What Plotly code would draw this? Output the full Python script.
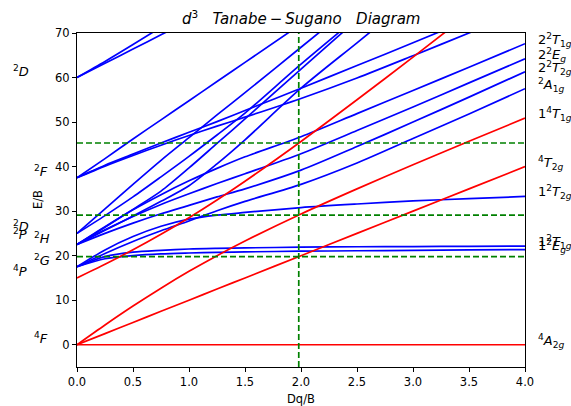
import plotly.graph_objects as go

# ---------------- data ----------------
dq = [0, 0.25, 0.5, 0.75, 1.0, 1.25, 1.5, 2.0, 2.5, 3.0, 3.5, 4.0]

# quartet states (red)
q_4A2g = [0, 0, 0, 0, 0, 0, 0, 0, 0, 0, 0, 0]
q_4T2g = [0, 2.5, 5, 7.5, 10, 12.5, 15, 20, 25, 30, 35, 40]
q_14T1g = [0, 4.43, 8.68, 12.70, 16.48, 20.0, 23.29, 29.36, 35.0, 40.41, 45.68, 50.88]
q_24T1g = [15, 18.07, 21.32, 24.80, 28.52, 32.5, 36.71, 45.64, 55.0, 64.59, 74.32, None]

# doublet states (blue)
d_12Eg = [17.5, 19.3, 20.0, 20.4, 20.6, 20.75, 20.85, 21.0, 21.1, 21.2, 21.3, 21.35]
d_12T1g = [17.5, 19.8, 20.8, 21.2, 21.5, 21.65, 21.75, 21.9, 22.0, 22.05, 22.1, 22.15]
d_12T2g = [17.5, 21.3, 24.3, 26.6, 28.2, 29.1, 29.7, 30.8, 31.6, 32.3, 32.8, 33.3]
d_2A1g = [17.5, 20.5, 23.2, 25.6, 27.8, 30.1, 32.2, 36.0, 40.8, 46.3, 51.8, 57.5]
d_22T2g = [22.5, 25.0, 27.3, 29.4, 31.3, 33.2, 35.0, 39.2, 44.5, 50.0, 55.6, 61.3]
d_22Eg = [22.5, 25.8, 28.8, 31.5, 33.9, 36.2, 38.4, 42.9, 48.1, 53.4, 58.8, 64.2]
d_22T1g = [22.5, 26.5, 30.3, 33.7, 36.8, 39.6, 42.2, 46.7, 51.9, 57.1, 62.3, 67.6]
d_hiA = [25, 30.5, 36.0, 41.4, 46.5, 51.6, 56.6, 66.8, 77.0, None, None, None]
d_hiB = [25, 29.0, 33.2, 37.7, 42.3, 47.1, 52.0, 63.0, 73.5, None, None, None]
d_hiC = [22.5, 26.4, 30.4, 34.5, 39.7, 45.2, 50.7, 61.9, 73.0, None, None, None]
d_hiD = [22.5, 25.7, 28.9, 32.2, 35.7, 40.6, 46.0, 57.6, 67.8, 78.0, None, None]
d_hiS = [37.5, 41.8, 46.2, 50.5, 54.8, 59.1, 63.4, 72.0, None, None, None, None]
d_hiFa = [37.5, 40.3, 42.8, 45.3, 47.7, 50.1, 52.6, 57.6, 62.7, 67.8, 73.0, None]
d_hiFb = [37.5, 40.1, 42.5, 44.8, 47.0, 49.1, 51.1, 55.3, 59.9, 64.9, 70.0, 75.0]
d_hiGa = [60, 63.6, 67.4, 71.3, None, None, None, None, None, None, None, None]
d_hiGb = [60, 63.2, 66.4, 69.6, 72.8, None, None, None, None, None, None, None]

# marker at Dq/B and the transition energies found there
dq_marker = 1.98
transition_levels = [19.8, 29.1, 45.3]

# free-ion terms (left) and their energies
left_terms = ["<sup>2</sup><i>D</i>", "<sup>2</sup><i>F</i>", "<sup>2</sup><i>D</i>",
              "<sup>2</sup><i>P</i>", "<sup>2</sup><i>H</i>", "<sup>2</sup><i>G</i>",
              "<sup>4</sup><i>P</i>", "<sup>4</sup><i>F</i>"]
left_energy = [60, 37.5, 25, 23.3, 22.5, 17.5, 15, 0]
left_column = [0, 1, 0, 0, 1, 1, 0, 1]

x_ticks = [0.0, 0.5, 1.0, 1.5, 2.0, 2.5, 3.0, 3.5, 4.0]
y_ticks = [0, 10, 20, 30, 40, 50, 60, 70]

# ---------------- figure ----------------
blue_series = [d_12Eg, d_12T1g, d_12T2g, d_2A1g, d_22T2g, d_22Eg, d_22T1g,
               d_hiA, d_hiB, d_hiC, d_hiD, d_hiS, d_hiFa, d_hiFb, d_hiGa, d_hiGb]
red_series = [q_4A2g, q_4T2g, q_14T1g, q_24T1g]

fig = go.Figure()
for s in blue_series:
    fig.add_trace(go.Scatter(x=dq, y=s, mode="lines",
                             line=dict(color="#0000ff", width=1.7, shape="spline", smoothing=0.8),
                             showlegend=False, hoverinfo="skip"))
for s in red_series:
    fig.add_trace(go.Scatter(x=dq, y=s, mode="lines",
                             line=dict(color="#ff0000", width=1.7, shape="spline", smoothing=0.8),
                             showlegend=False, hoverinfo="skip"))

dash_style = dict(color="#008000", width=1.7, dash="6px,3px")
for lv in transition_levels:
    fig.add_shape(type="line", xref="paper", x0=0, x1=1, yref="y", y0=lv, y1=lv, line=dash_style)
fig.add_shape(type="line", xref="x", x0=dq_marker, x1=dq_marker, yref="paper", y0=0, y1=1, line=dash_style)

font = "DejaVu Sans"
ann = []
# right-hand labels, at each curve's value at the right edge
right_labels = [
    ("2<sup>2</sup><i>T</i><sub>1<i>g</i></sub>", d_22T1g),
    ("2<sup>2</sup><i>E</i><sub><i>g</i></sub>", d_22Eg),
    ("2<sup>2</sup><i>T</i><sub>2<i>g</i></sub>", d_22T2g),
    ("<sup>2</sup><i>A</i><sub>1<i>g</i></sub>", d_2A1g),
    ("1<sup>4</sup><i>T</i><sub>1<i>g</i></sub>", q_14T1g),
    ("<sup>4</sup><i>T</i><sub>2<i>g</i></sub>", q_4T2g),
    ("1<sup>2</sup><i>T</i><sub>2<i>g</i></sub>", d_12T2g),
    ("1<sup>2</sup><i>E</i><sub><i>g</i></sub>", d_12Eg),
    ("1<sup>2</sup><i>T</i><sub>1<i>g</i></sub>", d_12T1g),
    ("<sup>4</sup><i>A</i><sub>2<i>g</i></sub>", q_4A2g),
]
for txt, s in right_labels:
    ann.append(dict(text=txt, x=1.025, xref="paper", y=s[-1], yref="y",
                    xanchor="left", yanchor="middle", yshift=4, showarrow=False,
                    font=dict(family=font, size=13, color="black")))
col_x = [-0.148, -0.1]
for txt, e, c in zip(left_terms, left_energy, left_column):
    ann.append(dict(text=txt, x=col_x[c], xref="paper", y=e, yref="y",
                    xanchor="left", yanchor="middle", yshift=7, showarrow=False,
                    font=dict(family=font, size=13, color="black")))

ann.append(dict(text="<i>d</i><sup>3</sup>\u00a0\u00a0\u00a0<i>Tanabe</i>\u2009\u2212\u2009<i>Sugano</i>\u00a0\u00a0\u00a0<i>Diagram</i>",
                x=0.5, xref="paper", y=1.045, yref="paper", xanchor="center", yanchor="middle",
                showarrow=False, font=dict(family=font, size=15, color="black")))
ann.append(dict(text="Dq/B", x=0.5, xref="paper", y=-0.096, yref="paper",
                xanchor="center", yanchor="middle", showarrow=False,
                font=dict(family=font, size=11.5, color="black")))
ann.append(dict(text="E/B", x=-0.087, xref="paper", y=0.5, yref="paper", textangle=-90,
                xanchor="center", yanchor="middle", showarrow=False,
                font=dict(family=font, size=11.5, color="black")))

fig.update_layout(
    width=571, height=406,
    margin=dict(l=77, r=46, t=33, b=39),
    paper_bgcolor="white", plot_bgcolor="white",
    annotations=ann,
    xaxis=dict(range=[0, 4], tickvals=x_ticks, ticktext=[f"{v:.1f}" for v in x_ticks],
               ticks="outside", ticklen=4, tickcolor="black", showgrid=False, zeroline=False,
               showline=True, mirror=True, linecolor="black", linewidth=1,
               tickfont=dict(family=font, size=11.5, color="black")),
    yaxis=dict(range=[-5, 70], tickvals=y_ticks, ticks="outside", ticklen=4, tickcolor="black",
               showgrid=False, zeroline=False, showline=True, mirror=True, linecolor="black",
               linewidth=1, tickfont=dict(family=font, size=11.5, color="black")),
)

fig.write_html("out.html")
